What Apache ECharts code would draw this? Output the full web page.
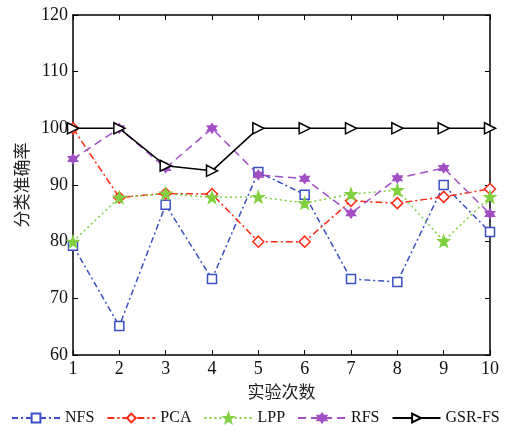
<!DOCTYPE html>
<html><head><meta charset="utf-8">
<script src="https://cdn.jsdelivr.net/npm/echarts@6/dist/echarts.min.js"></script>
<style>html,body{margin:0;padding:0;background:#fff}#c{width:506px;height:434px}</style>
</head><body><div id="c"></div>
<script>
const categories = ['1','2','3','4','5','6','7','8','9','10'];
const yTicks = [60,70,80,90,100,110,120];
const seriesNames = ['NFS','PCA','LPP','RFS','GSR-FS'];
const nfs = [79.3,65.1,86.5,73.4,92.3,88.3,73.4,72.9,90.0,81.7];
const pca = [100,87.8,88.5,88.4,80.0,80.0,87.2,86.8,87.9,89.3];
const lpp = [80.0,87.8,88.5,87.8,87.9,86.8,88.4,89.1,80.1,87.9];
const rfs = [94.6,100,93.0,100,91.8,91.1,85.0,91.2,93.0,84.9];
const gsr = [100,100,93.4,92.5,100,100,100,100,100,100];

const serif = '"Liberation Serif","Times New Roman",serif';
const cjk = '"Noto Sans CJK SC",sans-serif';
const star5 = 'path://M0,-10 L2.35,-3.24 L9.51,-3.09 L3.8,1.24 L5.88,8.09 L0,4 L-5.88,8.09 L-3.8,1.24 L-9.51,-3.09 L-2.35,-3.24 Z';
const star6 = 'path://M0,-10 L2.89,-5 L8.66,-5 L5.77,0 L8.66,5 L2.89,5 L0,10 L-2.89,5 L-8.66,5 L-5.77,0 L-8.66,-5 L-2.89,-5 Z';

function mk(name, data, color, dash, symbol, hollow, size, rot){
  return {
    name: name, type: 'line', data: data,
    symbol: symbol, symbolSize: size, symbolRotate: rot || 0,
    lineStyle: {color: color, width: 1.5, type: dash},
    itemStyle: {color: hollow ? '#fff' : color, borderColor: color, borderWidth: 1.5},
    emphasis: {disabled: true}, z: name === 'GSR-FS' ? 5 : 3
  };
}

const chart = echarts.init(document.getElementById('c'));
const axisLine = {show: true, lineStyle: {color: '#000', width: 1.5}};
chart.setOption({
  animation: false,
  grid: {left: 73, right: 16, top: 15, bottom: 79, show: false},
  legend: {
    bottom: 3, left: 6, itemWidth: 48, itemHeight: 11, itemGap: 12,
    textStyle: {fontFamily: serif, fontSize: 16, color: '#111'},
    data: seriesNames
  },
  xAxis: [{
    type: 'category', data: categories, boundaryGap: false,
    name: '实验次数', nameLocation: 'middle', nameGap: 28,
    nameTextStyle: {fontFamily: cjk, fontSize: 17, color: '#222'},
    axisLine: axisLine,
    axisTick: {show: true, inside: true, length: 5, lineStyle: {color: '#000'}},
    axisLabel: {fontFamily: serif, fontSize: 18, color: '#111', margin: 5},
    splitLine: {show: false}
  },{
    type: 'category', data: categories, boundaryGap: false, position: 'top',
    axisLine: axisLine,
    axisTick: {show: true, inside: true, length: 5, lineStyle: {color: '#000'}},
    axisLabel: {show: false}, splitLine: {show: false}
  }],
  yAxis: [{
    type: 'value', min: yTicks[0], max: yTicks[yTicks.length-1], interval: 10,
    name: '分类准确率', nameLocation: 'middle', nameGap: 43,
    nameTextStyle: {fontFamily: cjk, fontSize: 17, color: '#222'},
    axisLine: axisLine,
    axisTick: {show: true, inside: true, length: 5, lineStyle: {color: '#000'}},
    axisLabel: {fontFamily: serif, fontSize: 18, color: '#111', margin: 5},
    splitLine: {show: false}
  },{
    type: 'value', min: yTicks[0], max: yTicks[yTicks.length-1], interval: 10, position: 'right',
    axisLine: axisLine,
    axisTick: {show: true, inside: true, length: 5, lineStyle: {color: '#000'}},
    axisLabel: {show: false}, splitLine: {show: false}
  }],
  series: [
    mk('NFS', nfs, '#3a4fc4', [6,3,2,3], 'rect', true, 9),
    mk('PCA', pca, '#ff2a14', [7,3,2,3], 'diamond', true, 11),
    mk('LPP', lpp, '#80d040', [2,3], star5, false, 11),
    mk('RFS', rfs, '#a24fc6', [8,5], star6, false, 9),
    mk('GSR-FS', gsr, '#000', 'solid', 'triangle', true, 11, -90)
  ]
});
</script></body></html>
